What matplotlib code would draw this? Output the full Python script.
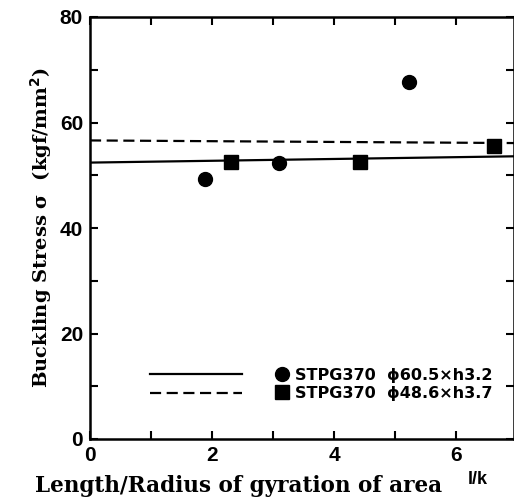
import matplotlib.pyplot as plt
from matplotlib.lines import Line2D

circle_x = [1.88, 3.1, 5.23]
circle_y = [49.2, 52.4, 67.6]
square_x = [2.31, 4.43, 6.62]
square_y = [52.6, 52.6, 55.5]
fit_x = [0, 7]
solid_y = [52.4, 53.6]
dashed_y = [56.6, 56.1]
labels = ['STPG370  \u03d560.5\u00d7h3.2', 'STPG370  \u03d548.6\u00d7h3.7']

fig = plt.figure(figsize=(5.14, 5.03), dpi=100)
ax = fig.add_axes([90/514, 64/503, 424/514, 422/503])

ax.plot(fit_x, solid_y, color='black', lw=1.6)
ax.plot(fit_x, dashed_y, color='black', lw=1.6, ls=(0, (5, 2.5)))
ax.plot(circle_x, circle_y, 'o', color='black', ms=10)
ax.plot(square_x, square_y, 's', color='black', ms=10.5)

ax.set_xlim(0, 6.95)
ax.set_ylim(0, 80)
ax.set_xticks(range(0, 7))
ax.set_xticklabels(['0', '', '2', '', '4', '', '6'])
ax.set_yticks(range(0, 81, 10))
ax.set_yticklabels(['0', '', '20', '', '40', '', '60', '', '80'])
ax.tick_params(direction='in', top=True, right=True, length=6, width=1.5,
               labelsize=15, pad=5)
for t in ax.get_xticklabels() + ax.get_yticklabels():
    t.set_fontweight('bold')
    t.set_family('Liberation Sans')
for s in ax.spines.values():
    s.set_linewidth(1.8)

ax.set_ylabel('Buckling Stress \u03c3  (kgf/mm$^\\mathbf{2}$)', family='DejaVu Serif',
              fontweight='bold', fontsize=14, labelpad=4)
ax.set_xlabel('Length/Radius of gyration of area', family='DejaVu Serif',
              fontweight='bold', fontsize=15.5, labelpad=2)
ax.xaxis.set_label_coords(0.35, -0.085)
fig.text(0.93, 0.037, 'l/k', family='Liberation Sans', fontweight='bold', fontsize=13,
         ha='center')

line_handles = [Line2D([], [], color='black', lw=1.6),
                Line2D([], [], color='black', lw=1.6, ls=(0, (5, 2.5)))]
leg1 = ax.legend(line_handles, ['', ''], loc='lower left', bbox_to_anchor=(0.11, 0.056),
                 frameon=False, handlelength=6, labelspacing=0.3, fontsize=11,
                 handletextpad=0)
ax.add_artist(leg1)
mark_handles = [Line2D([], [], marker='o', color='black', ls='none', ms=10),
                Line2D([], [], marker='s', color='black', ls='none', ms=10.5)]
ax.legend(mark_handles, labels, loc='lower left', bbox_to_anchor=(0.4, 0.056),
          frameon=False, handlelength=1, labelspacing=0.2, handletextpad=0.3,
          prop={'family': ['DejaVu Sans'], 'weight': 'bold', 'size': 11.5})

fig.savefig('out.png', dpi=100)
